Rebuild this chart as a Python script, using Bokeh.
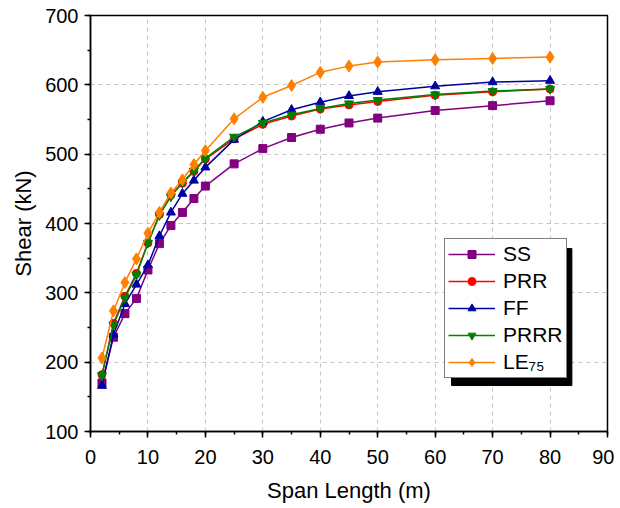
from bokeh.plotting import figure
from bokeh.models import (Legend, LegendItem, SingleIntervalTicker,
                          BoxAnnotation, Range1d)
from bokeh.embed import file_html
from bokeh.resources import INLINE

span = [2, 4, 6, 8, 10, 12, 14, 16, 18, 20, 25, 30, 35, 40, 45, 50, 60, 70, 80]
ss = [170, 236, 270, 292, 333, 371, 397, 416, 436, 454, 486, 508, 524, 536, 545, 552, 563, 570, 577]
prr = [182, 256, 295, 328, 372, 413, 441, 458, 475, 493, 522, 543, 555, 565, 571, 576, 585, 590, 594]
ff = [166, 240, 284, 312, 340, 382, 416, 443, 462, 481, 521, 547, 564, 575, 584, 590, 598, 604, 606]
prrr = [181, 254, 293, 326, 372, 412, 439, 459, 476, 494, 525, 545, 557, 566, 573, 578, 586, 591, 594]
le75 = [206, 274, 315, 349, 386, 416, 444, 463, 485, 505, 551, 582, 599, 618, 627, 633, 636, 638, 640]

series = [
    ("SS", ss, "#800080", "square", 8),
    ("PRR", prr, "#FF0000", "circle", 8),
    ("FF", ff, "#0000A0", "triangle", 9),
    ("PRRR", prrr, "#008000", "inverted_triangle", 9),
    ("LE\u2087\u2085", le75, "#FF8000", "diamond", 12),
]

FONT = "Liberation Sans"

p = figure(width=614, height=508, output_backend="svg", toolbar_location=None,
           x_range=Range1d(0, 90), y_range=Range1d(100, 700),
           min_border_left=90, min_border_top=15, min_border_right=7, min_border_bottom=77,
           x_axis_label="Span Length (m)", y_axis_label="Shear (kN)")
p.background_fill_color = "white"
p.border_fill_color = "white"
p.outline_line_color = "black"
p.outline_line_width = 1.5

p.xaxis.ticker = SingleIntervalTicker(interval=10, num_minor_ticks=2)
p.yaxis.ticker = SingleIntervalTicker(interval=100, num_minor_ticks=2)

for ax in (p.xaxis[0], p.yaxis[0]):
    ax.axis_line_width = 1.5
    ax.axis_line_color = "black"
    ax.major_tick_line_width = 1.5
    ax.minor_tick_line_width = 1.5
    ax.major_tick_in = 0
    ax.minor_tick_in = 0
    ax.major_tick_out = 6
    ax.minor_tick_out = 3
    ax.major_label_text_font = FONT
    ax.major_label_text_font_size = "20px"
    ax.major_label_text_color = "black"
    ax.axis_label_text_font = FONT
    ax.axis_label_text_font_size = "22px"
    ax.axis_label_text_font_style = "normal"
    ax.axis_label_text_color = "black"
p.xaxis.major_label_standoff = 12
p.xaxis.axis_label_standoff = 11
p.yaxis.major_label_standoff = 6
p.yaxis.axis_label_standoff = 6

p.xgrid.ticker = p.xaxis.ticker
p.ygrid.ticker = p.yaxis.ticker
for g in (p.xgrid, p.ygrid):
    g.grid_line_color = "#c4c4c4"
    g.grid_line_dash = "4 4"
    g.grid_line_width = 1

shadow = BoxAnnotation(left=62.85, right=83.8, top=363.9, bottom=166.3,
                       fill_color="black", fill_alpha=1.0, line_color="black", line_alpha=1.0)
p.add_layout(shadow)

items = []
for name, ys, col, mk, sz in series:
    r1 = p.line(span, ys, line_color=col, line_width=1.5)
    r2 = p.scatter(span, ys, marker=mk, size=sz, fill_color=col, line_color=col)
    items.append(LegendItem(label=name, renderers=[r1, r2]))

legend = Legend(items=items, location=(354, 53))
legend.label_text_font = FONT
legend.label_text_font_size = "21px"
legend.label_text_color = "black"
legend.glyph_width = 47
legend.glyph_height = 20
legend.label_height = 20
legend.label_standoff = 8
legend.spacing = 3
legend.padding = 3
legend.margin = 0
legend.border_line_color = "black"
legend.border_line_width = 1
legend.background_fill_color = "white"
legend.background_fill_alpha = 1.0
p.add_layout(legend, "center")

open("out.html", "w").write(file_html(p, INLINE))
